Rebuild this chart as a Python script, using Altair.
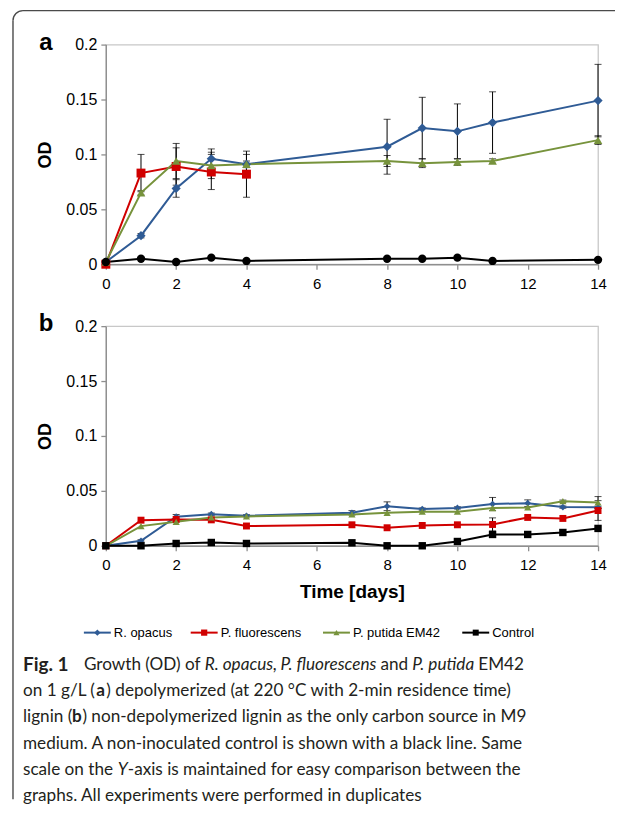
import altair as alt
import pandas as pd

# ---------------- data ----------------
SERIES = ["R. opacus", "P. fluorescens", "P. putida EM42", "Control"]
COLORS = ["#2F5B95", "#D00000", "#77933C", "#000000"]

# panel a: depolymerized lignin
a_days = [0, 1, 2, 3, 4, 8, 9, 10, 11, 14]
a_fluor_days = [0, 1, 2, 3, 4]
a_opacus = [0.002, 0.026, 0.069, 0.096, 0.091, 0.107, 0.124, 0.121, 0.129, 0.149]
a_opacus_err = [0, 0.002, 0.008, 0.009, 0.009, 0.025, 0.028, 0.025, 0.028, 0.033]
a_fluor = [0.0, 0.083, 0.089, 0.084, 0.082]
a_fluor_err = [0, 0.017, 0.017, 0.016, 0.021]
a_putida = [0.002, 0.065, 0.094, 0.090, 0.091, 0.094, 0.092, 0.093, 0.094, 0.113]
a_putida_err = [0, 0.002, 0.016, 0.012, 0.003, 0.005, 0.004, 0.003, 0.002, 0.004]
a_control = [0.002, 0.005, 0.002, 0.006, 0.003, 0.005, 0.005, 0.006, 0.003, 0.004]
a_control_err = [0, 0, 0, 0, 0, 0, 0, 0, 0, 0]

# panel b: non-depolymerized lignin
b_days = [0, 1, 2, 3, 4, 7, 8, 9, 10, 11, 12, 13, 14]
b_opacus = [0.0, 0.0045, 0.0265, 0.0288, 0.0273, 0.030, 0.036, 0.0334, 0.0345, 0.038, 0.0388, 0.0352, 0.035]
b_opacus_err = [0, 0.001, 0.002, 0.001, 0.001, 0.002, 0.004, 0.001, 0.001, 0.006, 0.003, 0.001, 0.001]
b_fluor = [0.0, 0.0233, 0.024, 0.0236, 0.018, 0.0191, 0.0164, 0.0185, 0.0191, 0.0194, 0.0258, 0.0249, 0.0321]
b_fluor_err = [0, 0, 0, 0, 0, 0, 0, 0, 0, 0.006, 0, 0, 0.009]
b_putida = [0.0, 0.0179, 0.0218, 0.0258, 0.0267, 0.0285, 0.030, 0.031, 0.031, 0.0343, 0.0349, 0.0406, 0.0394]
b_putida_err = [0, 0, 0, 0, 0, 0, 0, 0, 0, 0, 0, 0.001, 0.0054]
b_control = [0.0, 0.0, 0.0021, 0.003, 0.0021, 0.0027, 0.0, 0.0, 0.0039, 0.0103, 0.0103, 0.0121, 0.0158]
b_control_err = [0, 0, 0, 0, 0, 0, 0, 0, 0, 0, 0, 0, 0]

x_ticks = [0, 2, 4, 6, 8, 10, 12, 14]
y_ticks = [0, 0.05, 0.1, 0.15, 0.2]

# caption (text segments; style and line index)
cap_text = ["Fig. 1", "Growth (OD) of", "R. opacus,", "P. fluorescens", "and", "P. putida", "EM42",
            "on 1 g/L (", "a", ") depolymerized (at 220 °C with 2-min residence time)",
            "lignin (", "b", ") non-depolymerized lignin as the only carbon source in M9",
            "medium. A non-inoculated control is shown with a black line. Same",
            "scale on the", "Y", "-axis is maintained for easy comparison between the",
            "graphs. All experiments were performed in duplicates"]
cap_style = ["bold", "regular", "italic", "italic", "regular", "italic", "regular",
             "regular", "bold", "regular",
             "regular", "bold", "regular",
             "regular",
             "regular", "italic", "regular",
             "regular"]
cap_line = [0, 0, 0, 0, 0, 0, 0, 1, 1, 1, 2, 2, 2, 3, 4, 4, 4, 5]

# ---------------- layout ----------------
PW, PH = 493, 220
GAP = 62
ORIGIN_X = 105                      # page x of plot left edge
CAP_TOP = 44 + PH + GAP + PH + GAP  # page y of caption group
cap_page_x = [22, 83, 204, 280, 380, 412, 478,
              22, 95.5, 105.5,
              22, 71, 81.5,
              22,
              22, 117, 127,
              22]
line_page_y = [665, 691.7, 718, 744.5, 771, 797]
legend_page_x = [83, 190, 322.5, 462]   # left end of each legend line
LEG_Y = 633
FONT = "Liberation Sans"
CAP_FONT = "Lato"
FRAME = "#4a4a4a"


def long(rows):
    recs = []
    for name, days, vals, errs in rows:
        for d, v, e in zip(days, vals, errs):
            recs.append({"series": name, "day": d, "od": v,
                         "lo": v - e, "hi": v + e, "err": e})
    return pd.DataFrame(recs)


color = alt.Color("series:N", scale=alt.Scale(domain=SERIES, range=COLORS), legend=None)


def panel(df, shapes, sizes, letter, xtitle):
    xax = alt.Axis(values=x_ticks, format="d", title=xtitle, labelPadding=7,
                   labelFontSize=15, titlePadding=10, titleFontSize=19)
    yax = alt.Axis(values=y_ticks, format="~g", title="OD", labelPadding=4,
                   labelFontSize=16, titlePadding=11, titleFontSize=18)
    xs = alt.Scale(domain=[0, 14], nice=False)
    ys = alt.Scale(domain=[0, 0.2], nice=False)
    x = alt.X("day:Q", scale=xs, axis=xax)

    err = df[df["err"] > 0]
    rules = alt.Chart(err).mark_rule(color="black", strokeWidth=1).encode(
        x=x, y=alt.Y("lo:Q", scale=ys, axis=yax), y2="hi:Q")
    cap_lo = alt.Chart(err).mark_tick(orient="horizontal", size=7, thickness=1, color="black").encode(
        x=x, y=alt.Y("lo:Q", scale=ys, axis=yax))
    cap_hi = alt.Chart(err).mark_tick(orient="horizontal", size=7, thickness=1, color="black").encode(
        x=x, y=alt.Y("hi:Q", scale=ys, axis=yax))
    lines = alt.Chart(df).mark_line(strokeWidth=2).encode(
        x=x, y=alt.Y("od:Q", scale=ys, axis=yax), color=color, detail="series:N")
    pts = alt.Chart(df).mark_point(filled=True, opacity=1).encode(
        x=x, y=alt.Y("od:Q", scale=ys, axis=yax), color=color,
        shape=alt.Shape("series:N", scale=alt.Scale(domain=SERIES, range=shapes), legend=None),
        size=alt.Size("series:N", scale=alt.Scale(domain=SERIES, range=sizes), legend=None))
    lab = alt.Chart(pd.DataFrame({"t": [letter]})).mark_text(
        font=FONT, fontSize=24, fontWeight="bold", align="center", baseline="middle",
        color="black").encode(x=alt.value(-60), y=alt.value(-2), text="t:N")
    return alt.layer(rules, cap_lo, cap_hi, lines, pts, lab).properties(width=PW, height=PH)


df_a = long([
    ("R. opacus", a_days, a_opacus, a_opacus_err),
    ("P. fluorescens", a_fluor_days, a_fluor, a_fluor_err),
    ("P. putida EM42", a_days, a_putida, a_putida_err),
    ("Control", a_days, a_control, a_control_err),
])
df_b = long([
    ("R. opacus", b_days, b_opacus, b_opacus_err),
    ("P. fluorescens", b_days, b_fluor, b_fluor_err),
    ("P. putida EM42", b_days, b_putida, b_putida_err),
    ("Control", b_days, b_control, b_control_err),
])

panel_a = panel(df_a, ["diamond", "square", "triangle-up", "circle"], [85, 70, 85, 95], "a", None)
panel_b = panel(df_b, ["diamond", "square", "triangle-up", "square"], [45, 55, 60, 64], "b", "Time [days]")

# ---------------- caption / legend / frame ----------------
cap_df = pd.DataFrame({
    "text": cap_text,
    "style": cap_style,
    "x": [px - ORIGIN_X for px in cap_page_x],
    "y": [line_page_y[i] - CAP_TOP for i in cap_line],
    "size": [19 if s == "Fig. 1" else 17.2 for s in cap_text],
})

text_layers = []
for style, weight, fstyle in [("regular", "normal", "normal"), ("bold", "bold", "normal"),
                              ("italic", "normal", "italic")]:
    text_layers.append(
        alt.Chart(cap_df).transform_filter(alt.datum.style == style).mark_text(
            font=CAP_FONT, fontWeight=weight, fontStyle=fstyle,
            align="left", baseline="middle", color="#231f20").encode(
            x=alt.X("x:Q", scale=None, axis=None),
            y=alt.Y("y:Q", scale=None, axis=None),
            size=alt.Size("size:Q", scale=None, legend=None),
            text="text:N"))

# legend (line + marker + label per series)
leg_df = pd.DataFrame({
    "series": SERIES,
    "x0": [p - ORIGIN_X for p in legend_page_x],
    "x1": [p - ORIGIN_X + 27 for p in legend_page_x],
    "xm": [p - ORIGIN_X + 13.5 for p in legend_page_x],
    "xt": [p - ORIGIN_X + 30 for p in legend_page_x],
})
ly = LEG_Y - CAP_TOP
leg_lines = alt.Chart(leg_df).mark_rule(strokeWidth=2).encode(
    x=alt.X("x0:Q", scale=None, axis=None), x2="x1:Q", y=alt.value(ly), color=color)
leg_pts = alt.Chart(leg_df).mark_point(filled=True, opacity=1).encode(
    x=alt.X("xm:Q", scale=None, axis=None), y=alt.value(ly), color=color,
    shape=alt.Shape("series:N", scale=alt.Scale(domain=SERIES,
                    range=["diamond", "square", "triangle-up", "square"]), legend=None),
    size=alt.Size("series:N", scale=alt.Scale(domain=SERIES, range=[40, 36, 45, 36]), legend=None))
leg_txt = alt.Chart(leg_df).mark_text(font=FONT, fontSize=13, align="left", baseline="middle",
                                      color="black").encode(
    x=alt.X("xt:Q", scale=None, axis=None), y=alt.value(ly), text="series:N")

one = pd.DataFrame({"k": [0]})
frame_top = alt.Chart(one).mark_rule(color=FRAME, strokeWidth=1.4).encode(
    x=alt.value(22 - ORIGIN_X), x2=alt.value(615 - ORIGIN_X), y=alt.value(10 - CAP_TOP))
frame_left = alt.Chart(one).mark_rule(color=FRAME, strokeWidth=1.4).encode(
    x=alt.value(12 - ORIGIN_X), y=alt.value(20 - CAP_TOP), y2=alt.value(800 - CAP_TOP))
frame_corner = alt.Chart(one).mark_arc(theta=4.7124, theta2=6.2832, radius=10.7, radius2=9.3,
                                       color=FRAME).encode(
    x=alt.value(22 - ORIGIN_X), y=alt.value(20 - CAP_TOP))

caption = alt.layer(frame_top, frame_left, frame_corner, leg_lines, leg_pts, leg_txt,
                    *text_layers).properties(
    width=PW, height=185, view=alt.ViewBackground(stroke="transparent"))

chart = alt.vconcat(panel_a, panel_b, caption, spacing=GAP, bounds="flush").resolve_scale(
    shape="independent", size="independent"
).properties(
    padding={"left": 3, "top": 0, "right": 0, "bottom": 0},
    background="white",
).configure_view(
    stroke="#c8c8c8", strokeWidth=1.3
).configure_axis(
    domainColor="#8f8f8f", domainWidth=1.3, tickColor="#8f8f8f", tickWidth=1.3, tickSize=5,
    labelFont=FONT, labelColor="black", grid=False, labelFlush=False,
    labelOverlap=False, titleFont=FONT, titleFontWeight="bold", titleColor="black",
)

chart.save("out.html", embed_options={"renderer": "svg", "actions": False})
